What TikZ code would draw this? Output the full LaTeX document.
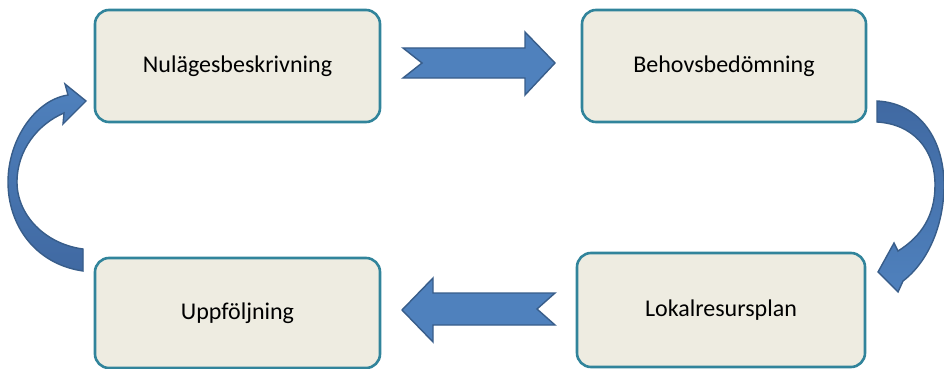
\documentclass[tikz,border=0pt]{standalone}
\usepackage{fontspec}
\setmainfont{Carlito}
\definecolor{boxfill}{HTML}{EEECE1}
\definecolor{boxline}{HTML}{31849B}
\definecolor{arrfill}{HTML}{4F81BD}
\definecolor{arrdark}{HTML}{4069A2}
\definecolor{arrline}{HTML}{385D8A}
\begin{document}
\begin{tikzpicture}[x=1pt,y=-1pt,
  stagebox/.style={draw=boxline,fill=boxfill,line width=2.6pt,rounded corners=14pt,
    font=\fontsize{24}{28}\selectfont,inner sep=0pt},
  blockarrow/.style={fill=arrfill,draw=arrline,line width=1.4pt,line join=miter}]
\useasboundingbox (0,0) rectangle (944,369);
\node[stagebox,minimum width=285pt,minimum height=112pt] (nul) at (237.5,66) {Nulägesbeskrivning};
\node[stagebox,minimum width=284pt,minimum height=112pt] (beh) at (724,66) {Behovsbedömning};
\node[stagebox,minimum width=285pt,minimum height=110pt] (upp) at (237.5,313) {Uppföljning};
\node[stagebox,minimum width=288pt,minimum height=114pt] (lok) at (721,310) {Lokalresursplan};
% straight arrows
\draw[blockarrow] (403,48) -- (525,48) -- (525,32) -- (555,63) -- (525,95) -- (525,78) -- (403,78) -- (422,63) -- cycle;
\draw[blockarrow] (402,310) -- (433,278) -- (433,293) -- (555,293) -- (537,309) -- (555,325) -- (433,325) -- (433,342) -- cycle;
% right curved arrow
\draw[blockarrow,top color=arrdark,bottom color=arrfill] (877,101) .. controls (920,103) and (944,140) .. (944,185)
  .. controls (944,225) and (928,262) .. (903,281) -- (898,292) -- (878,272) -- (894,243) -- (898,251)
  .. controls (922,236) and (935,215) .. (935,185)
  .. controls (935,148) and (912,124) .. (877,122) -- cycle;
% left curved arrow
\draw[blockarrow,top color=arrfill,bottom color=arrdark] (83,271) .. controls (35,264) and (8,225) .. (8,182)
  .. controls (8,140) and (35,100) .. (68,95) -- (65,84) -- (86,101) -- (63,124) -- (64,113)
  .. controls (38,124) and (17,150) .. (17,182)
  .. controls (17,215) and (45,244) .. (83,249) -- cycle;
\end{tikzpicture}
\end{document}
